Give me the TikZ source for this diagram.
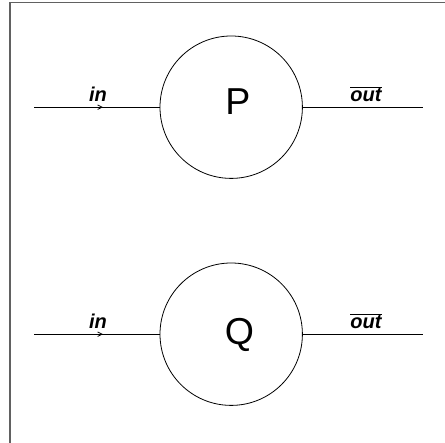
\documentclass[tikz,border=0pt]{standalone}
\usepackage{fontspec}
\setmainfont{Liberation Sans}
\usetikzlibrary{arrows.meta,decorations.markings}
\tikzset{
  proc/.style={circle,draw,line width=0.8pt,minimum size=142.4pt,inner sep=0pt},
  wire/.style={line width=0.8pt},
  inwire/.style={wire,postaction={decorate},
    decoration={markings,mark=at position 69pt with {\arrow{Straight Barb[length=4.5pt,width=4.5pt]}}}},
  sig/.style={anchor=base,inner sep=0pt,font=\fontsize{20}{20}\selectfont\bfseries\itshape},
  pname/.style={anchor=base,inner sep=0pt,font=\fontsize{37.5}{37.5}\selectfont},
  frameline/.style={draw=black!62,line width=1.4pt}
}
\begin{document}
\begin{tikzpicture}[x=1pt,y=-1pt]
\useasboundingbox (0,0) rectangle (445,443);
% outer frame, only its top and left edges fall inside the page
\draw[frameline] (10,460) -- (10,2.5) -- (460,2.5);

% process P
\node[proc] (P) at (231.2,107.2) {};
\node[pname] (Pname) at (238,114.3) {P};
\coordinate (Pin) at (34,107.2);
\coordinate (Pout) at (423.3,107.2);
\draw[inwire] (Pin) -- (P.west);
\draw[wire] (P.east) -- (Pout);
\node[sig] (Pinlab) at (98,101.5) {in};
\node[sig] (Poutlab) at (366,101.5) {$\overline{\mbox{out}}$};

% process Q
\node[proc] (Q) at (231.2,334.2) {};
\node[pname] (Qname) at (239.5,345) {Q};
\coordinate (Qin) at (34,334.2);
\coordinate (Qout) at (423.3,334.2);
\draw[inwire] (Qin) -- (Q.west);
\draw[wire] (Q.east) -- (Qout);
\node[sig] (Qinlab) at (98,328.4) {in};
\node[sig] (Qoutlab) at (366,328.4) {$\overline{\mbox{out}}$};
\end{tikzpicture}
\end{document}
